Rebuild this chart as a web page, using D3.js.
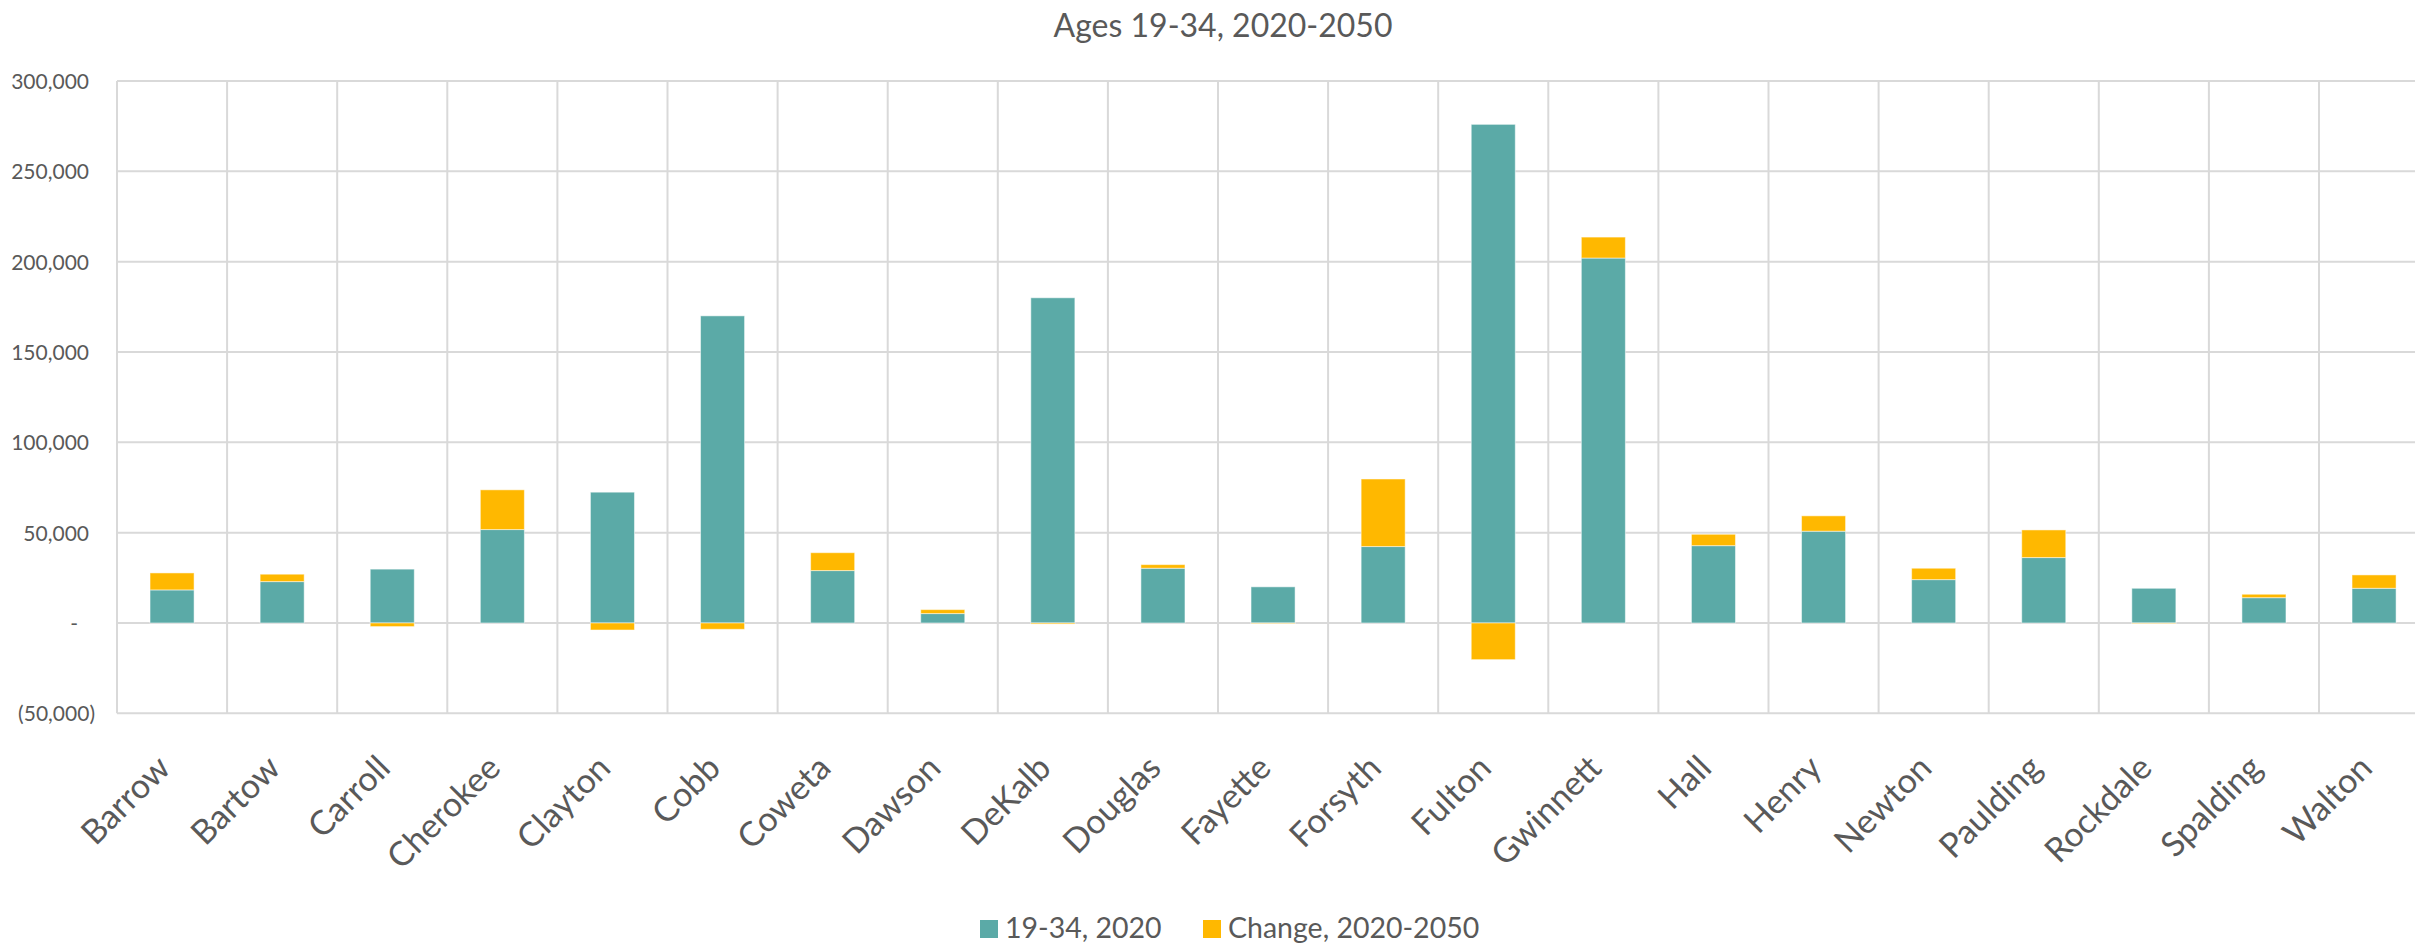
<!DOCTYPE html>
<html>
<head>
<meta charset="utf-8">
<script src="https://cdn.jsdelivr.net/npm/d3@7"></script>
<style>
  html, body { margin: 0; padding: 0; background: #fff; }
  svg { display: block; font-family: Lato, "Open Sans", sans-serif; }
</style>
</head>
<body>
<svg id="chart" width="2415" height="943"></svg>
<script>
const categories = ["Barrow","Bartow","Carroll","Cherokee","Clayton","Cobb","Coweta","Dawson","DeKalb","Douglas","Fayette","Forsyth","Fulton","Gwinnett","Hall","Henry","Newton","Paulding","Rockdale","Spalding","Walton"];
const pop2020 = [18300, 22900, 29800, 51700, 72400, 170000, 29000, 5200, 180000, 30300, 20000, 42300, 276000, 202000, 42800, 50800, 24000, 36200, 19200, 14000, 19200];
const change2050 = [9400, 4100, -2000, 22000, -3900, -3500, 9900, 2200, -600, 2000, -300, 37400, -20300, 11600, 6300, 8500, 6300, 15300, -300, 1900, 7400];
const seriesNames = ["19-34, 2020", "Change, 2020-2050"];
const yTicks = [-50000, 0, 50000, 100000, 150000, 200000, 250000, 300000];
const title = "Ages 19-34, 2020-2050";

const colors = ["#5BAAA7", "#FFB800"];
const textColor = "#595959";
const gridColor = "#D9D9D9";

const svg = d3.select("#chart");

const left = 117, step = 110.1;
const x = d3.scaleBand().domain(categories).range([left, left + step * categories.length]).padding(0);
const y = d3.scaleLinear().domain([-50000, 300000]).range([713.3, 81]);

// title
svg.append("text")
  .attr("x", 1223).attr("y", 37)
  .attr("text-anchor", "middle")
  .attr("fill", textColor)
  .attr("font-size", 32)
  .text(title);

// horizontal gridlines
svg.append("g").selectAll("line").data(yTicks).join("line")
  .attr("x1", left).attr("x2", x.range()[1])
  .attr("y1", d => y(d)).attr("y2", d => y(d))
  .attr("stroke", gridColor).attr("stroke-width", 2);

// vertical gridlines (category boundaries)
const bounds = categories.map(c => x(c)).concat([x.range()[1]]);
svg.append("g").selectAll("line").data(bounds).join("line")
  .attr("x1", d => d).attr("x2", d => d)
  .attr("y1", y(300000)).attr("y2", y(-50000))
  .attr("stroke", gridColor).attr("stroke-width", 2);

// y axis labels
const fmt = d3.format(",");
const yAxis = d3.axisLeft(y).tickValues(yTicks).tickSize(0).tickPadding(0)
  .tickFormat(d => d === 0 ? "-" : (d < 0 ? "(" + fmt(-d) + ")" : fmt(d)));
const ya = svg.append("g").call(yAxis);
ya.select(".domain").remove();
ya.selectAll("text")
  .attr("font-family", "Lato, 'Open Sans', sans-serif")
  .attr("font-size", 21)
  .attr("fill", textColor)
  .attr("x", d => d === 0 ? 78 : (d < 0 ? 95 : 89))
  .attr("dy", "0.36em");

// stacked bars (positive and negative parts stacked separately)
const rows = categories.map((c, i) => ({cat: c, a: pop2020[i], b: change2050[i]}));
const stack = d3.stack().keys(["a", "b"]).offset(d3.stackOffsetDiverging);
const layers = stack(rows);
const bw = step * 0.4;
svg.append("g").selectAll("g").data(layers).join("g")
  .attr("fill", (d, i) => colors[i])
  .selectAll("rect").data(d => d).join("rect")
  .attr("x", d => x(d.data.cat) + (step - bw) / 2)
  .attr("width", bw)
  .attr("y", d => y(Math.max(d[0], d[1])))
  .attr("height", d => Math.abs(y(d[0]) - y(d[1])))
  .attr("stroke", "#ffffff").attr("stroke-opacity", 0.5).attr("stroke-width", 1);

// category labels
svg.append("g").selectAll("text").data(categories).join("text")
  .attr("transform", d => `translate(${x(d) + step / 2},770) rotate(-45)`)
  .attr("text-anchor", "end")
  .attr("fill", textColor)
  .attr("font-size", 34)
  .text(d => d);

// legend
const lg = svg.append("g");
const legendItems = [{name: seriesNames[0], color: colors[0], x: 980}, {name: seriesNames[1], color: colors[1], x: 1203}];
lg.selectAll("rect").data(legendItems).join("rect")
  .attr("x", d => d.x).attr("y", 920).attr("width", 18).attr("height", 18)
  .attr("fill", d => d.color);
lg.selectAll("text").data(legendItems).join("text")
  .attr("x", d => d.x + 25).attr("y", 938)
  .attr("fill", textColor)
  .attr("font-size", 28.5)
  .text(d => d.name);
</script>
</body>
</html>
